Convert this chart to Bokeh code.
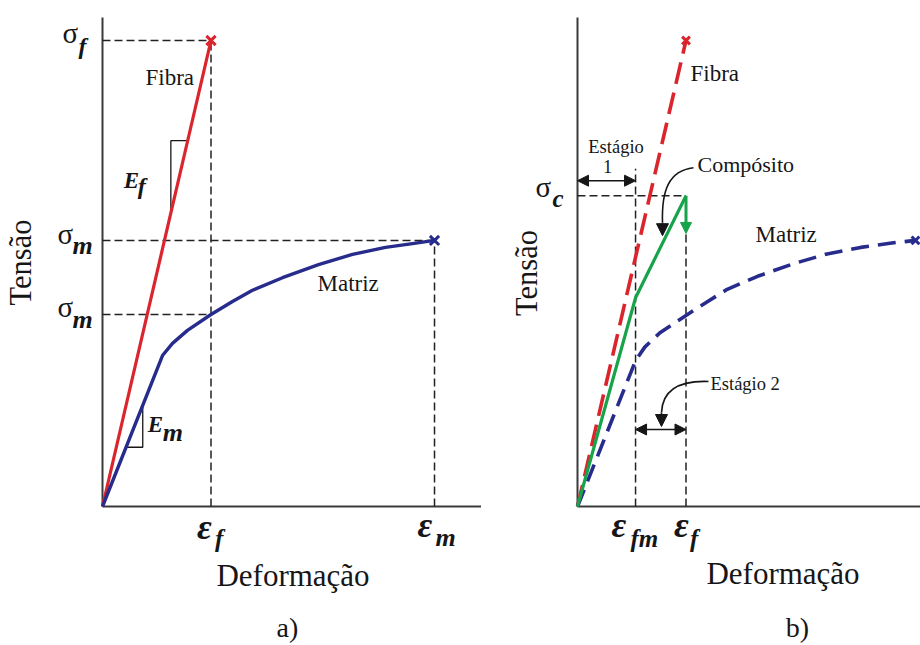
import math
from bokeh.plotting import figure
from bokeh.layouts import row
from bokeh.models import Range1d, Label, Arrow, NormalHead
from bokeh.embed import file_html
from bokeh.resources import INLINE

# ---------------- data (schematic units) ----------------
fiber_strain = [0.0, 1.0]
fiber_stress = [0.0, 100.0]

matrix_a_strain = [0.0, 0.553, 0.645, 0.783, 1.0, 1.198, 1.382, 1.659, 1.991, 2.304, 2.608, 2.857, 3.06]
matrix_a_stress = [0.0, 32.4, 35.0, 37.8, 41.2, 44.0, 46.4, 49.1, 51.9, 54.1, 55.6, 56.4, 57.1]

matrix_b_strain = [0.0, 0.535, 0.62, 0.76, 1.0, 1.2, 1.38, 1.66, 1.99, 2.3, 2.61, 2.88, 3.115]
matrix_b_stress = [0.0, 31.3, 34.2, 37.3, 41.0, 44.0, 46.6, 49.4, 52.1, 54.2, 55.6, 56.5, 57.1]

composite_strain = [0.0, 0.535, 1.0]
composite_stress = [0.0, 44.8, 66.7]
composite_drop_stress = 58.6

eps_f = 1.0
sig_f = 100.0
eps_m_a = 3.06
eps_m_b = 3.115
sig_m = 57.1
sig_m_at_eps_f = 41.2
eps_fm = 0.535
sig_c = 66.7

# slope triangles (strain positions along the lines)
tri_f_x = [0.63, 0.785]
tri_m_x = [0.217, 0.371]

# ---------------- layout / style ----------------
PX_X = 108.5   # pixels per strain unit
PX_Y = 4.66    # pixels per stress unit
H = 645
ORIGIN_Y = 506      # pixel row of the strain axis (from top)
AXIS_TOP = 17       # pixel row where the stress axis ends
BASELINE_FIX = 0.38  # em correction so that dy refers to the alphabetic baseline

RED = "#da252c"
BLUE = "#272c8c"
GREEN = "#17a34a"
INK = "#161616"
AXIS = "#3a3a3a"
SERIF = "Liberation Serif"


def px2x(d):
    return d / PX_X


def px2y(d):
    return d / PX_Y


def make_fig(width, origin_x):
    p = figure(width=width, height=H,
               x_range=Range1d(-origin_x / PX_X, (width - origin_x) / PX_X),
               y_range=Range1d(-(H - ORIGIN_Y) / PX_Y, ORIGIN_Y / PX_Y),
               min_border=0, x_axis_type=None, y_axis_type=None,
               output_backend="svg", toolbar_location=None,
               outline_line_color=None, background_fill_color="white",
               border_fill_color="white")
    p.grid.visible = False
    # axis lines (schematic axes through the origin)
    y_top = (ORIGIN_Y - AXIS_TOP) / PX_Y
    x_end = (width - origin_x) / PX_X
    p.line([0, 0], [0, y_top], line_color=AXIS, line_width=2)
    p.line([0, x_end], [0, 0], line_color=AXIS, line_width=2)
    return p


def lab(p, x, y, text, dx=0, dy=0, size=22, style="normal", align="left",
        baseline="alphabetic", angle=0.0):
    if baseline == "alphabetic":
        dy = dy + BASELINE_FIX * size
    p.add_layout(Label(x=x, y=y, x_offset=dx, y_offset=dy, text=text,
                       text_font=SERIF, text_font_size=f"{size}px",
                       text_font_style=style, text_align=align,
                       text_baseline=baseline, angle=angle, text_color=INK))


def dashed(p, xs, ys):
    p.line(xs, ys, line_color="#222222", line_width=1.5, line_dash="8 4")


def head(color, size=11):
    return NormalHead(size=size, fill_color=color, line_color=color, line_width=1)


# ======================= panel a =======================
pa = make_fig(481, 102)

dashed(pa, [0, eps_f], [sig_f, sig_f])
dashed(pa, [eps_f, eps_f], [0, sig_f])
dashed(pa, [0, eps_m_a], [sig_m, sig_m])
dashed(pa, [eps_m_a, eps_m_a], [0, sig_m])
dashed(pa, [0, eps_f], [sig_m_at_eps_f, sig_m_at_eps_f])

# slope triangles
Ef = sig_f / eps_f
pa.line([tri_f_x[0], tri_f_x[0], tri_f_x[1]],
        [Ef * tri_f_x[0], Ef * tri_f_x[1], Ef * tri_f_x[1]],
        line_color=INK, line_width=1.3)
Em = matrix_a_stress[1] / matrix_a_strain[1]
pa.line([tri_m_x[0], tri_m_x[1], tri_m_x[1]],
        [Em * tri_m_x[0], Em * tri_m_x[0], Em * tri_m_x[1]],
        line_color=INK, line_width=1.3)

pa.line(fiber_strain, fiber_stress, line_color=RED, line_width=3.2)
pa.line(matrix_a_strain, matrix_a_stress, line_color=BLUE, line_width=3.4, line_join="round")
pa.scatter([fiber_strain[-1]], [fiber_stress[-1]], marker="x", size=13,
           line_color=RED, line_width=3)
pa.scatter([matrix_a_strain[-1]], [matrix_a_stress[-1]], marker="x", size=13,
           line_color=BLUE, line_width=3)

# tick-like symbols
lab(pa, 0, sig_f, "σ", dx=-40, dy=-4, size=29)
lab(pa, 0, sig_f, "f", dx=-24, dy=-15, size=24, style="bold italic")
lab(pa, 0, sig_m, "σ", dx=-45, dy=-5, size=29)
lab(pa, 0, sig_m, "m", dx=-30, dy=-15, size=26, style="bold italic")
lab(pa, 0, sig_m_at_eps_f, "σ", dx=-45, dy=-4, size=29)
lab(pa, 0, sig_m_at_eps_f, "m", dx=-30, dy=-15, size=26, style="bold italic")
lab(pa, eps_f, 0, "ε", dx=-14, dy=-34, size=36, style="bold italic")
lab(pa, eps_f, 0, "f", dx=4, dy=-41, size=25, style="bold italic")
lab(pa, eps_m_a, 0, "ε", dx=-17, dy=-32, size=36, style="bold italic")
lab(pa, eps_m_a, 0, "m", dx=1, dy=-41, size=26, style="bold italic")

lab(pa, tri_f_x[0], Ef * tri_f_x[0], "E", dx=-47, dy=24, size=23, style="bold italic")
lab(pa, tri_f_x[0], Ef * tri_f_x[0], "f", dx=-33, dy=18, size=24, style="bold italic")
lab(pa, tri_m_x[1], Em * tri_m_x[0], "E", dx=5, dy=14, size=23, style="bold italic")
lab(pa, tri_m_x[1], Em * tri_m_x[0], "m", dx=20, dy=5, size=26, style="bold italic")

lab(pa, eps_f, sig_f, "Fibra", dx=-65.5, dy=-46, size=23)
lab(pa, eps_m_a, sig_m, "Matriz", dx=-117, dy=-52, size=23)
lab(pa, 0, 0, "Deformação", dx=190.5, dy=-81, size=31, align="center")
lab(pa, 0, 0, "Tensão", dx=-81.5, dy=244, size=30.5, align="center",
    baseline="middle", angle=math.pi / 2)
lab(pa, 0, 0, "a)", dx=185, dy=-132, size=28, align="center")

# ======================= panel b =======================
pb = make_fig(439, 96)

eps_fm_top = sig_c + px2y(27)
dashed(pb, [0, eps_f], [sig_c, sig_c])
dashed(pb, [eps_fm, eps_fm], [0, eps_fm_top])
dashed(pb, [eps_f, eps_f], [0, sig_c])

pb.line(fiber_strain, fiber_stress, line_color=RED, line_width=3.6, line_dash="22 9")
pb.line(matrix_b_strain, matrix_b_stress, line_color=BLUE, line_width=3.6, line_dash="18 9")
pb.scatter([fiber_strain[-1]], [fiber_stress[-1]], marker="x", size=11,
           line_color=RED, line_width=3)
pb.scatter([matrix_b_strain[-1]], [matrix_b_stress[-1]], marker="x", size=11,
           line_color=BLUE, line_width=3)

pb.line(composite_strain, composite_stress, line_color=GREEN, line_width=3.2)
pb.add_layout(Arrow(x_start=composite_strain[-1], y_start=composite_stress[-1],
                    x_end=composite_strain[-1], y_end=composite_drop_stress,
                    line_color=GREEN, line_width=3, end=head(GREEN)))

# stage 1 double arrow
y1 = sig_c + px2y(15)
pb.add_layout(Arrow(x_start=0, y_start=y1, x_end=eps_fm, y_end=y1,
                    line_color=INK, line_width=1.6, start=head(INK), end=head(INK)))
# stage 2 double arrow
y2 = px2y(77)
pb.add_layout(Arrow(x_start=eps_fm, y_start=y2, x_end=eps_f, y_end=y2,
                    line_color=INK, line_width=1.6, start=head(INK), end=head(INK)))

# curved pointer: Compósito
cx, cy = eps_f, sig_c
pb.bezier(x0=[cx + px2x(7.5)], y0=[cy + px2y(28)],
          x1=[cx - px2x(23.5)], y1=[cy - px2y(27)],
          cx0=[cx - px2x(17.5)], cy0=[cy + px2y(25)],
          cx1=[cx - px2x(24.5)], cy1=[cy + px2y(5)],
          line_color=INK, line_width=1.6)
pb.add_layout(Arrow(x_start=cx - px2x(23.5), y_start=cy - px2y(27),
                    x_end=cx - px2x(23.5), y_end=cy - px2y(40),
                    line_color=INK, line_width=1.6, end=head(INK, 12)))

# curved pointer: Estágio 2
sx, sy = eps_f, 0.0
pb.bezier(x0=[sx + px2x(22.5)], y0=[sy + px2y(125)],
          x1=[sx - px2x(24.5)], y1=[sy + px2y(94)],
          cx0=[sx - px2x(5.5)], cy0=[sy + px2y(126)],
          cx1=[sx - px2x(23.5)], cy1=[sy + px2y(118)],
          line_color=INK, line_width=1.6)
pb.add_layout(Arrow(x_start=sx - px2x(24.5), y_start=sy + px2y(94),
                    x_end=sx - px2x(24.5), y_end=sy + px2y(80),
                    line_color=INK, line_width=1.6, end=head(INK, 12)))

# texts
lab(pb, 0, sig_c, "σ", dx=-42, dy=-2, size=29)
lab(pb, 0, sig_c, "c", dx=-25, dy=-12, size=25, style="bold italic")
lab(pb, eps_fm, 0, "ε", dx=-24, dy=-32, size=36, style="bold italic")
lab(pb, eps_fm, 0, "fm", dx=-5, dy=-41, size=25, style="bold italic")
lab(pb, eps_f, 0, "ε", dx=-12, dy=-32, size=36, style="bold italic")
lab(pb, eps_f, 0, "f", dx=4, dy=-41, size=25, style="bold italic")

lab(pb, eps_f, sig_f, "Fibra", dx=4.5, dy=-42, size=23)
lab(pb, eps_m_b, sig_m, "Matriz", dx=-160, dy=-3, size=23)
lab(pb, eps_f, sig_c, "Compósito", dx=11.5, dy=23, size=22)
lab(pb, eps_fm / 2, sig_c, "Estágio", dx=9.5, dy=42, size=18.5, align="center")
lab(pb, eps_fm / 2, sig_c, "1", dx=1, dy=22, size=18.5, align="center")
lab(pb, eps_f, 0, "Estágio 2", dx=24.5, dy=115, size=18.5)
lab(pb, 0, 0, "Deformação", dx=205.5, dy=-79, size=31, align="center")
lab(pb, 0, 0, "Tensão", dx=-51, dy=233.5, size=30.5, align="center",
    baseline="middle", angle=math.pi / 2)
lab(pb, 0, 0, "b)", dx=220, dy=-132, size=28, align="center")

layout = row(pa, pb)
open("out.html", "w").write(file_html(layout, INLINE))
